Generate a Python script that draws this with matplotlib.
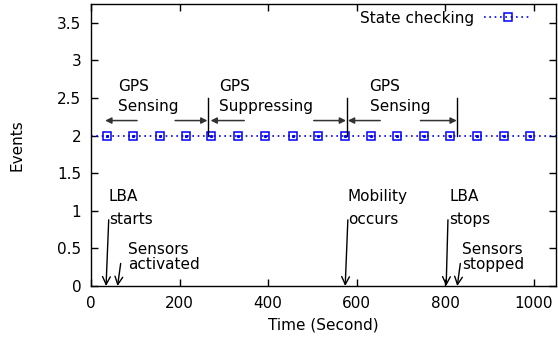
import numpy as np
import matplotlib
matplotlib.use("Agg")
import matplotlib.pyplot as plt

# state checking instants (seconds), all at level 2
check_times = [35, 95, 155, 215, 271, 333, 393, 455, 513, 573, 632, 690, 751, 811, 872, 933, 991]
check_level = 2

# GPS mode switch times (vertical bars from 2 to 2.5)
switch_times = [265, 578, 827]

# horizontal arrows (from x, to x) at y = 2.2
gps_arrows = [(104, 32), (190, 263), (346, 270), (503, 576), (653, 580), (744, 826)]
gps_arrow_y = 2.2

# GPS mode labels (two lines each)
gps_labels = [("GPS", "Sensing"), ("GPS", "Suppressing"), ("GPS", "Sensing")]
gps_label_x = [61, 290, 629]

# event annotations: (line1, line2), text x, arrow start (x, y), arrow end x
events = [
    (("LBA", "starts"), 40, (40, 0.88), 34),
    (("Sensors", "activated"), 83, (67, 0.30), 60),
    (("Mobility", "occurs"), 580, (580, 0.88), 574),
    (("LBA", "stops"), 809, (806, 0.88), 802),
    (("Sensors", "stopped"), 838, (834, 0.30), 827),
]

plt.rcParams['font.family'] = ['DejaVu Sans']
plt.rcParams['font.size'] = 11

fig = plt.figure(figsize=(5.58, 3.39), dpi=100)
ax = fig.add_axes([91 / 558, 1 - 286 / 339, (556 - 91) / 558, (286 - 4) / 339])

# dotted line across the whole range, markers only at check times
line_x = [0] + check_times + [1050]
line_y = [check_level] * len(line_x)
ax.plot(line_x, line_y, ls=(0, (1, 2.2)), color='#0000ff', lw=1.2,
        marker='s', ms=6, mfc='none', mec='#0000ff', mew=1.1,
        markevery=list(range(1, len(line_x) - 1)), label='State checking')
ax.plot(check_times, [check_level] * len(check_times), ls='none', marker='s',
        ms=1.2, color='#0000ff')

for sx in switch_times:
    ax.plot([sx, sx], [2, 2.5], color='black', lw=1)

for x0, x1 in gps_arrows:
    ax.annotate('', xy=(x1, gps_arrow_y), xytext=(x0, gps_arrow_y),
                arrowprops=dict(arrowstyle='-|>', color='#333333', lw=1.1,
                                mutation_scale=9, shrinkA=0, shrinkB=0))

for (l1, l2), lx in zip(gps_labels, gps_label_x):
    ax.text(lx, 2.59, l1, ha='left', va='baseline')
    ax.text(lx, 2.33, l2, ha='left', va='baseline')

for (l1, l2), tx, (ax0, ay0), ax1 in events:
    if ay0 > 0.5:
        y1, y2 = 1.13, 0.83
    else:
        y1, y2 = 0.43, 0.23
    ax.text(tx, y1, l1, ha='left', va='baseline')
    ax.text(tx, y2, l2, ha='left', va='baseline')
    ax.annotate('', xy=(ax1, 0), xytext=(ax0, ay0),
                arrowprops=dict(arrowstyle='->', color='black', lw=1,
                                mutation_scale=14, shrinkA=0, shrinkB=0))

ax.set_xlim(0, 1050)
ax.set_ylim(0, 3.75)
ax.set_xticks([0, 200, 400, 600, 800, 1000])
ax.set_yticks([0, 0.5, 1, 1.5, 2, 2.5, 3, 3.5])
ax.set_yticklabels(['0', '0.5', '1', '1.5', '2', '2.5', '3', '3.5'])
ax.tick_params(direction='in', top=True, right=True, length=5, width=1, pad=7)
for s in ax.spines.values():
    s.set_linewidth(1)

ax.set_xlabel('Time (Second)')
ax.set_ylabel('Events')
ax.xaxis.set_label_coords(0.5, -0.11)
ax.yaxis.set_label_coords(-0.142, 0.5)

ax.legend(loc='center right', bbox_to_anchor=(0.961, 0.950), frameon=False,
          markerfirst=False, handlelength=3.1, handletextpad=0.7,
          borderaxespad=0, borderpad=0.4)

fig.savefig('out.png', dpi=100)
